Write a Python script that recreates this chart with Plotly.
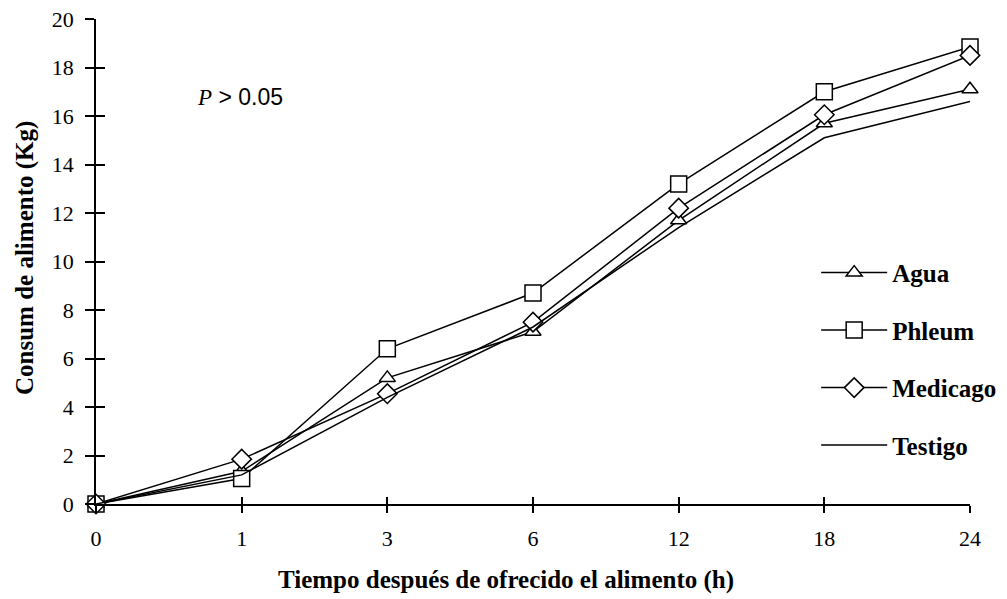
import plotly.graph_objects as go

horas = ["0", "1", "3", "6", "12", "18", "24"]
agua = [0, 1.35, 5.2, 7.1, 11.7, 15.7, 17.1]
phleum = [0, 1.05, 6.4, 8.7, 13.2, 17.0, 18.85]
medicago = [0, 1.85, 4.55, 7.5, 12.2, 16.05, 18.5]
testigo = [0, 1.2, 4.4, 7.3, 11.4, 15.1, 16.6]

FONT = "Liberation Serif"
series = [
    ("Agua", agua, "triangle-up", 14),
    ("Phleum", phleum, "square", 16),
    ("Medicago", medicago, "diamond", 15),
]

fig = go.Figure()
for name, vals, sym, sz in series:
    fig.add_trace(go.Scatter(
        x=horas, y=vals, name=name, mode="lines+markers",
        line=dict(color="black", width=1.5),
        marker=dict(symbol=sym, size=sz, color="white",
                    line=dict(color="black", width=1.5)),
        cliponaxis=False, legendgroup=name,
    ))
fig.add_trace(go.Scatter(
    x=horas, y=testigo, name="Testigo", mode="lines",
    line=dict(color="black", width=1.5), cliponaxis=False,
    legendgroup="Testigo",
))

axis_common = dict(showgrid=False, zeroline=False, showline=True,
                   linecolor="black", linewidth=1.5, tickcolor="black",
                   tickwidth=1.5)
# page has an 8px body margin: figure is 999x591 drawn at offset (8, 8)
fig.update_layout(
    width=999, height=591,
    margin=dict(l=88, r=37, t=11, b=95, autoexpand=False),
    paper_bgcolor="white", plot_bgcolor="white",
    font=dict(family=FONT, color="black", size=22),
    xaxis=dict(type="category", range=[0, 6], ticks="outside", ticklen=7,
               tickfont=dict(size=22), ticklabelstandoff=7,
               ticklabeloverflow="allow", **axis_common),
    yaxis=dict(range=[0, 20], dtick=2, ticks="outside", ticklen=9,
               tickfont=dict(size=22), ticklabelstandoff=7,
               ticklabeloverflow="allow", **axis_common),
    xaxis2=dict(type="category", range=[0, 6], overlaying="x", ticks="inside",
                ticklen=7, showticklabels=False, side="bottom",
                anchor="y", matches="x", **axis_common),
    yaxis2=dict(range=[0, 20], dtick=2, overlaying="y", ticks="inside",
                ticklen=9, showticklabels=False, side="left", anchor="x",
                **axis_common),
    legend=dict(x=0.824, xanchor="left", y=0.524, yanchor="top",
                font=dict(size=25, family=FONT, weight="bold"),
                tracegroupgap=22, bgcolor="rgba(0,0,0,0)", itemwidth=66),
    showlegend=True,
)
fig.add_trace(go.Scatter(x=horas, y=[None] * len(horas), xaxis="x2", yaxis="y2",
                         showlegend=False, hoverinfo="skip"))

fig.add_annotation(
    text="<i>P</i><span style='font-family:Liberation Sans'> > 0.05</span>",
    xref="paper", yref="paper",
    x=(195 - 96) / 874, y=(504 - 97) / 485, xanchor="left",
    yanchor="middle", showarrow=False, font=dict(size=23))
fig.add_annotation(text="<b>Tiempo después de ofrecido el alimento (h)</b>",
                   xref="paper", yref="paper", x=(506 - 96) / 874,
                   y=(504 - 580) / 485, xanchor="center", yanchor="middle",
                   showarrow=False, font=dict(size=25))
fig.add_annotation(text="<b>Consum de alimento (Kg)</b>", xref="paper",
                   yref="paper", x=(25 - 96) / 874, y=(504 - 258) / 485,
                   xanchor="center", yanchor="middle", textangle=-90,
                   showarrow=False, font=dict(size=25))

fig.write_html("out.html")
